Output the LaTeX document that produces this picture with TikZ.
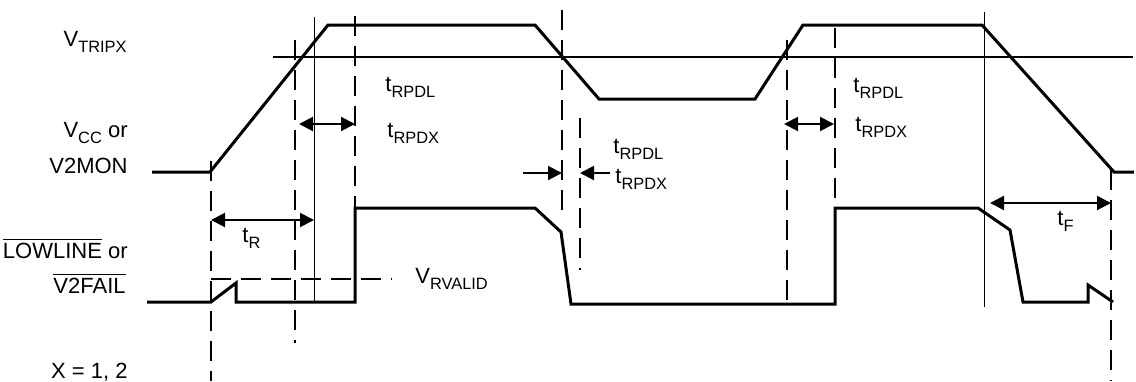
\documentclass[tikz,border=0pt]{standalone}
\usepackage{fontspec}
\setmainfont{Liberation Sans}
\usetikzlibrary{arrows.meta}
\newcommand\sbs[1]{\raisebox{-3pt}{\fontsize{8.2}{9}\selectfont #1}}
\newcommand\ovl[1]{$\overline{\hbox{#1}}$}
\tikzset{
  sig/.style={line width=1.5pt,line join=miter},
  thinline/.style={line width=0.5pt},
  trip/.style={line width=1pt},
  dashline/.style={line width=1pt,dash pattern=on 10pt off 5pt},
  dim/.style={line width=1pt,{Triangle[length=7pt,width=7pt]}-{Triangle[length=7pt,width=7pt]}},
  dimr/.style={line width=1pt,-{Triangle[length=7pt,width=7pt]}},
  lbl/.style={inner sep=0pt,font=\fontsize{11}{13}\selectfont}
}
\begin{document}
\begin{tikzpicture}[x=0.5pt,y=-0.5pt]
  \useasboundingbox (0,0) rectangle (1136,381);
  % labels on the left
  \draw
    (127,46) node[lbl,anchor=base east] (vtrip){V\sbs{TRIPX}}
    (128,137) node[lbl,anchor=base east] (vcc){V\sbs{CC} or}
    (128,173) node[lbl,anchor=base east] (vmon){V2MON}
    (128,258) node[lbl,anchor=base east] (lowline){\ovl{LOWLINE} or}
    (126,293) node[lbl,anchor=base east] (vfail){\ovl{V2FAIL}}
    (128,378) node[lbl,anchor=base east] (xeq){X = 1, 2};
  % timing labels
  \draw
    (242,242) node[lbl,anchor=base west] (tr){t\sbs{R}}
    (385,91) node[lbl,anchor=base west] (tpdla){t\sbs{RPDL}}
    (387,137) node[lbl,anchor=base west] (tpdxa){t\sbs{RPDX}}
    (613,153) node[lbl,anchor=base west] (tpdlb){t\sbs{RPDL}}
    (615,183) node[lbl,anchor=base west] (tpdxb){t\sbs{RPDX}}
    (853,92) node[lbl,anchor=base west] (tpdlc){t\sbs{RPDL}}
    (855,131) node[lbl,anchor=base west] (tpdxc){t\sbs{RPDX}}
    (1057,225) node[lbl,anchor=base west] (tf){t\sbs{F}}
    (415,283) node[lbl,anchor=base west] (vrvalid){V\sbs{RVALID}};
  % threshold
  \draw[trip] (273,57) -- (1133,57);
  % supply waveform
  \draw[sig] (152,172) -- (210,172) -- (328,25) -- (535,25) -- (599,99)
    -- (755,99) -- (803,25) -- (982,25) -- (1114,172) -- (1134,172);
  % reset output waveform
  \draw[sig] (147,302) -- (211,302) -- (236,283) -- (236,302) -- (355,302)
    -- (355,208) -- (535,208) -- (561,232) -- (571,304) -- (835,304)
    -- (835,208) -- (978,208) -- (1010,230) -- (1023,302) -- (1088,302)
    -- (1088,285) -- (1113,302);
  % guide lines
  \coordinate (a1) at (211,161);  \coordinate (a2) at (211,381);
  \coordinate (b1) at (295,40);   \coordinate (b2) at (295,343);
  \coordinate (c1) at (355,16);   \coordinate (c2) at (355,303);
  \coordinate (d1) at (562,10);   \coordinate (d2) at (562,213);
  \coordinate (e1) at (580,118);  \coordinate (e2) at (580,270);
  \coordinate (f1) at (787,40);   \coordinate (f2) at (787,303);
  \coordinate (g1) at (835,28);   \coordinate (g2) at (835,208);
  \coordinate (h1) at (1111,170); \coordinate (h2) at (1111,381);
  \coordinate (s1) at (314,17);   \coordinate (s2) at (314,303);
  \coordinate (u1) at (984,12);   \coordinate (u2) at (984,307);
  \coordinate (v1) at (211,279);  \coordinate (v2) at (392,279);
  \begin{scope}[dashline]
    \draw (a1) to (a2);
    \draw (b1) to (b2);
    \draw (c1) to (c2);
    \draw (d1) to (d2);
    \draw (e1) to (e2);
    \draw (f1) to (f2);
    \draw (g1) to (g2);
    \draw (h1) to (h2);
    \draw (v1) to (v2);
  \end{scope}
  \begin{scope}[thinline]
    \draw (s1) to (s2);
    \draw (u1) to (u2);
  \end{scope}
  % dimension arrows
  \coordinate (ra) at (211,220);  \coordinate (rb) at (314,220);
  \coordinate (pa) at (299,124);  \coordinate (pb) at (355,124);
  \coordinate (qa) at (523,173);  \coordinate (qb) at (562,173);
  \coordinate (qc) at (610,173);  \coordinate (qd) at (580,173);
  \coordinate (wa) at (784,124);  \coordinate (wb) at (834,124);
  \coordinate (fa) at (990,203);  \coordinate (fb) at (1111,203);
  \draw[dim] (ra) to (rb);
  \draw[dim] (pa) to (pb);
  \draw[dimr] (qa) to (qb);
  \draw[dimr] (qc) to (qd);
  \draw[dim] (wa) to (wb);
  \draw[dim] (fa) to (fb);
\end{tikzpicture}
\end{document}
